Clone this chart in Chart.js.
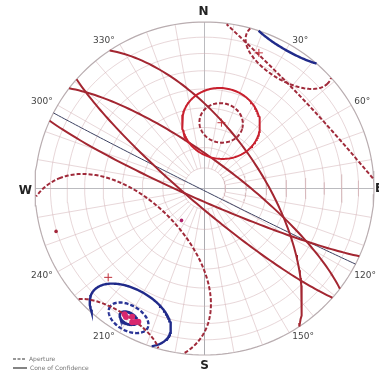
<!DOCTYPE html>
<html>
<head>
<meta charset="utf-8">
<script src="https://cdn.jsdelivr.net/npm/chart.js@4.4.0/dist/chart.umd.min.js"></script>
<style>
  html, body { margin: 0; padding: 0; background: #fff; }
  canvas { display: block; }
</style>
</head>
<body>
<canvas id="net" width="379" height="372"></canvas>
<script>
// great circles (planes): dip direction / dip
const planeDipDir = [56, 37, 221, 204, 207];
const planeDip = [63, 76, 82, 84, 89];
const planeColor = ['#a32631', '#a32631', '#a32631', '#a32631', '#3b4060'];
const planeWidth = [2, 2, 2, 2, 1];

// cones: axis trend / plunge and half angle
const coneTrend = [14, 14, 227, 32, 210, 210, 210];
const conePlunge = [56.5, 56.5, 23, 5, 12, 11, 11];
const coneAngle = [18, 10, 45, 17, 16.5, 8, 3.5];
const coneDashed = [false, true, true, true, false, true, false];
const coneColor = ['#c8202e', '#a02a3a', '#a02a3a', '#a02a3a', '#202a8a', '#2a3496', '#202a8a'];

// pole markers (+)
const crossTrend = [14.2, 226.8, 21.5];
const crossPlunge = [56.5, 23.1, 13.5];

// single points
const dotTrend = [253.6, 215.3];
const dotPlunge = [9.6, 70.9];
const dotColor = ['#a3263a', '#b0206a'];

// pole cluster (lower left)
const clusterTrend = [206, 208, 211, 209, 212, 207];
const clusterPlunge = [12, 10, 11, 13, 12, 11];

// grid
const ringPlunges = [10, 20, 30, 40, 50, 60, 70, 80];
const gridStep = 10;
const azLabels = [30, 60, 120, 150, 210, 240, 300, 330];

const rad = d => d * Math.PI / 180;
const vec = (t, p) => [Math.cos(rad(p)) * Math.sin(rad(t)), Math.cos(rad(p)) * Math.cos(rad(t)), Math.sin(rad(p))];
// equal area, lower hemisphere
const proj = v => ({ x: v[0] / Math.sqrt(1 + v[2]), y: v[1] / Math.sqrt(1 + v[2]) });

function greatCircle(dd, dip) {
  const s = [Math.sin(rad(dd - 90)), Math.cos(rad(dd - 90)), 0];
  const d = vec(dd, dip);
  const pts = [];
  for (let a = 0; a <= 180; a += 2) {
    const c = Math.cos(rad(a)), n = Math.sin(rad(a));
    pts.push(proj([c * s[0] + n * d[0], c * s[1] + n * d[1], c * s[2] + n * d[2]]));
  }
  return pts;
}

function cross(a, b) {
  return [a[1] * b[2] - a[2] * b[1], a[2] * b[0] - a[0] * b[2], a[0] * b[1] - a[1] * b[0]];
}

function smallCircle(t, p, ang) {
  const A = vec(t, p);
  let U = cross(A, [0, 0, 1]);
  const l = Math.hypot(U[0], U[1], U[2]);
  U = U.map(u => u / l);
  const W = cross(A, U);
  const pts = [];
  let last = null;
  for (let a = 0; a <= 360; a += 2) {
    const c = Math.cos(rad(a)), n = Math.sin(rad(a));
    const ca = Math.cos(rad(ang)), sa = Math.sin(rad(ang));
    let v = [0, 1, 2].map(i => ca * A[i] + sa * (c * U[i] + n * W[i]));
    const up = v[2] < 0;
    if (up) v = v.map(x => -x);
    if (last !== null && last !== up) pts.push({ x: 0, y: null });
    last = up;
    pts.push(proj(v));
  }
  return pts;
}

const datasets = [];

planeDipDir.forEach((dd, i) => {
  datasets.push({ data: greatCircle(dd, planeDip[i]), showLine: true, pointRadius: 0,
    borderColor: planeColor[i], borderWidth: planeWidth[i], order: 2, clip: 8 });
});

coneTrend.forEach((t, i) => {
  datasets.push({ data: smallCircle(t, conePlunge[i], coneAngle[i]), showLine: true, pointRadius: 0,
    spanGaps: false, borderColor: coneColor[i], borderWidth: i >= 4 ? 2.4 : 2,
    borderDash: coneDashed[i] ? [4, 2] : [], order: 1, clip: 8 });
});

datasets.push({ data: clusterTrend.map((t, i) => proj(vec(t, clusterPlunge[i]))), showLine: false,
  pointRadius: 3, pointBackgroundColor: '#d8286e', pointBorderWidth: 0, order: 0 });

datasets.push({ data: crossTrend.map((t, i) => proj(vec(t, crossPlunge[i]))), showLine: false,
  pointStyle: 'cross', pointRadius: 4, borderColor: '#c0303a', borderWidth: 1, order: 0 });

datasets.push({ data: dotTrend.map((t, i) => proj(vec(t, dotPlunge[i]))), showLine: false,
  pointRadius: 1.8, pointBackgroundColor: dotColor, pointBorderWidth: 0, order: 0 });

// polar grid
ringPlunges.forEach(p => {
  const pts = [];
  for (let a = 0; a <= 360; a += 3) pts.push(proj(vec(a, p)));
  datasets.push({ data: pts, showLine: true, pointRadius: 0, borderColor: 'rgba(210,175,180,0.5)', borderWidth: 1, order: 5 });
});
for (let a = 0; a < 360; a += gridStep) {
  const main = a % 90 === 0;
  datasets.push({ data: [proj(vec(a, main ? 90 : 80)), proj(vec(a, 0))], showLine: true, pointRadius: 0,
    borderColor: main ? 'rgba(170,170,175,0.8)' : 'rgba(210,175,180,0.5)', borderWidth: 1, order: 5 });
}
{
  const pts = [];
  for (let a = 0; a <= 360; a += 2) pts.push(proj(vec(a, 0)));
  datasets.push({ data: pts, showLine: true, pointRadius: 0, borderColor: '#b9adb0', borderWidth: 1.2, order: 4, clip: 8 });
}

const labels = {
  id: 'labels',
  afterDatasetsDraw(chart) {
    const ctx = chart.ctx, xs = chart.scales.x, ys = chart.scales.y;
    const px = (x, y) => [xs.getPixelForValue(x), ys.getPixelForValue(y)];
    ctx.save();
    ctx.fillStyle = '#222';
    ctx.font = 'bold 12px "DejaVu Sans", sans-serif';
    ctx.textBaseline = 'middle';
    ctx.textAlign = 'center';
    let [x, y] = px(0, 1); ctx.fillText('N', x - 1, y - 10);
    [x, y] = px(0, -1); ctx.fillText('S', x, y + 11);
    [x, y] = px(-1, 0); ctx.textAlign = 'right'; ctx.fillText('W', x - 3, y + 2);
    [x, y] = px(1, 0); ctx.textAlign = 'left'; ctx.fillText('E', x + 1, y);

    ctx.font = '9px "DejaVu Sans", sans-serif';
    ctx.fillStyle = '#444';
    azLabels.forEach(a => {
      const [lx, ly] = px(Math.sin(rad(a)), Math.cos(rad(a)));
      const right = a < 180;
      ctx.textAlign = right ? 'left' : 'right';
      const dy = Math.cos(rad(a)) > 0 ? -4 : 4;
      ctx.fillText(a + '°', lx + (right ? 3 : -5), ly + dy);
    });

    // legend
    ctx.strokeStyle = '#333';
    ctx.lineWidth = 1.2;
    ctx.setLineDash([3, 1.5]);
    ctx.beginPath(); ctx.moveTo(13, 359); ctx.lineTo(26, 359); ctx.stroke();
    ctx.setLineDash([]);
    ctx.beginPath(); ctx.moveTo(13, 368); ctx.lineTo(27, 368); ctx.stroke();
    ctx.font = '6px "DejaVu Sans", sans-serif';
    ctx.fillStyle = '#777';
    ctx.textAlign = 'left';
    ctx.fillText('Aperture', 29, 359);
    ctx.fillText('Cone of Confidence', 30, 368);
    ctx.restore();
  }
};

new Chart(document.getElementById('net'), {
  type: 'scatter',
  data: { datasets },
  options: {
    responsive: false,
    animation: false,
    devicePixelRatio: 1,
    layout: { padding: { left: 35, right: 5, top: 22, bottom: 17 } },
    plugins: { legend: { display: false }, tooltip: { enabled: false } },
    elements: { line: { tension: 0 } },
    scales: {
      x: { type: 'linear', min: -1, max: 1, display: false },
      y: { type: 'linear', min: -1, max: 1, display: false }
    }
  },
  plugins: [labels]
});
</script>
</body>
</html>
